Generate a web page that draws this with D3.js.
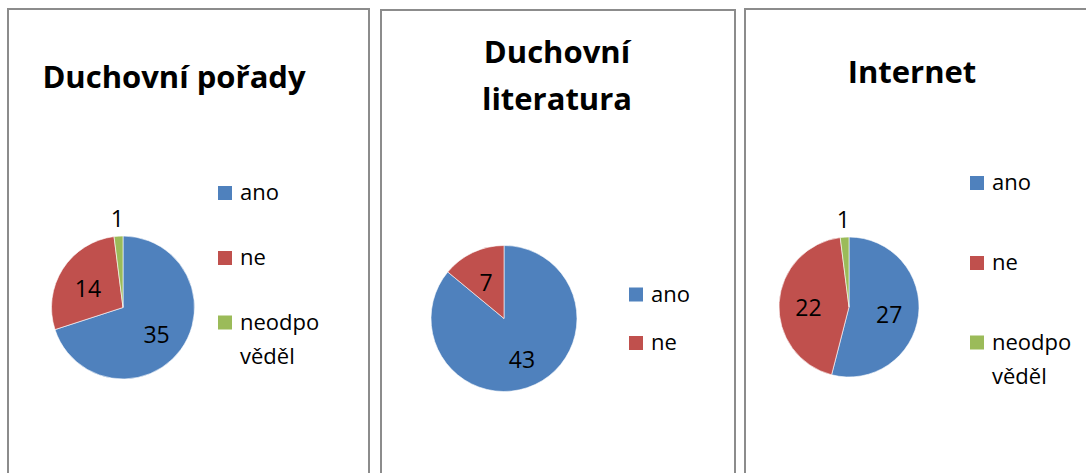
<!DOCTYPE html>
<html>
<head>
<meta charset="utf-8">
<script src="https://cdn.jsdelivr.net/npm/d3@7"></script>
<style>
    body { margin: 0; background: #fff; }
    text { font-family: "Open Sans", sans-serif; fill: #000; }
</style>
</head>
<body>
<div id="chart-area"></div>
<script>
// data
const categories = ["ano", "ne", "neodpověděl"]
const legendLines = [["ano"], ["ne"], ["neodpo", "věděl"]]
const colors = ["#4F81BD", "#C0504D", "#9BBB59"]

const titles = [["Duchovní pořady"], ["Duchovní", "literatura"], ["Internet"]]
const poradyValues = [35, 14, 1]
const literaturaValues = [43, 7]
const internetValues = [27, 22, 1]

const WIDTH = 1086
const HEIGHT = 473

const svg = d3.select("#chart-area").append("svg")
    .attr("width", WIDTH)
    .attr("height", HEIGHT)

// panel layout (boxes, title, pie, legend)
const panels = [
    {
        values: poradyValues, title: titles[0],
        box: [8, 9, 361, 480], titleX: 174, titleY: [88],
        cx: 123, cy: 307.5, r: 71.5,
        legX: 218, legY: [193, 258, 322.5]
    },
    {
        values: literaturaValues, title: titles[1],
        box: [381, 10, 354, 480], titleX: 557, titleY: [63, 110],
        cx: 504, cy: 318.5, r: 73,
        legX: 629, legY: [294.5, 343]
    },
    {
        values: internetValues, title: titles[2],
        box: [745, 9, 360, 480], titleX: 912, titleY: [83],
        cx: 849, cy: 307, r: 70,
        legX: 970, legY: [183, 263, 342.5]
    }
]

const color = d3.scaleOrdinal().domain(categories).range(colors)

const pie = d3.pie()
    .sort(null)
    .value(d => d.value)

panels.forEach(p => {
    const g = svg.append("g")

    // frame
    g.append("rect")
        .attr("x", p.box[0])
        .attr("y", p.box[1])
        .attr("width", p.box[2])
        .attr("height", p.box[3])
        .attr("fill", "#fff")
        .attr("stroke", "#8c8c8c")
        .attr("stroke-width", 2)

    // title
    g.selectAll(".title")
        .data(p.title)
        .enter().append("text")
        .attr("class", "title")
        .attr("x", p.titleX)
        .attr("y", (d, i) => p.titleY[i])
        .attr("text-anchor", "middle")
        .attr("font-size", "31px")
        .attr("font-weight", "bold")
        .text(d => d)

    const data = p.values.map((v, i) => ({ cat: categories[i], value: v }))
    const totals = d3.sum(p.values)
    const arcs = pie(data)

    const arc = d3.arc().innerRadius(0).outerRadius(p.r)
    const labelArc = d3.arc().innerRadius(p.r * 0.58).outerRadius(p.r * 0.58)
    const outerArc = d3.arc().innerRadius(p.r * 1.29).outerRadius(p.r * 1.29)

    const pieG = g.append("g")
        .attr("transform", `translate(${p.cx}, ${p.cy})`)

    pieG.selectAll("path")
        .data(arcs)
        .enter().append("path")
        .attr("d", arc)
        .attr("fill", d => color(d.data.cat))
        .attr("stroke", "#fff")
        .attr("stroke-width", 0.6)

    // value labels, small slices go outside
    pieG.selectAll(".val")
        .data(arcs)
        .enter().append("text")
        .attr("class", "val")
        .attr("transform", d => {
            const c = d.data.value / totals < 0.05 ? outerArc.centroid(d) : labelArc.centroid(d)
            return `translate(${c[0]}, ${c[1] + 3})`
        })
        .attr("dy", "0.36em")
        .attr("text-anchor", "middle")
        .attr("font-size", "23px")
        .text(d => d.data.value)

    // legend
    const leg = g.selectAll(".leg")
        .data(data)
        .enter().append("g")
        .attr("class", "leg")
        .attr("transform", (d, i) => `translate(${p.legX}, ${p.legY[i]})`)

    leg.append("rect")
        .attr("x", 0)
        .attr("y", -7)
        .attr("width", 14)
        .attr("height", 14)
        .attr("fill", d => color(d.cat))

    leg.append("text")
        .attr("x", 22)
        .attr("y", 7)
        .attr("font-size", "22px")
        .selectAll("tspan")
        .data((d, i) => legendLines[i])
        .enter().append("tspan")
        .attr("x", 22)
        .attr("dy", (d, i) => i === 0 ? 0 : 34)
        .text(d => d)
})
</script>
</body>
</html>
